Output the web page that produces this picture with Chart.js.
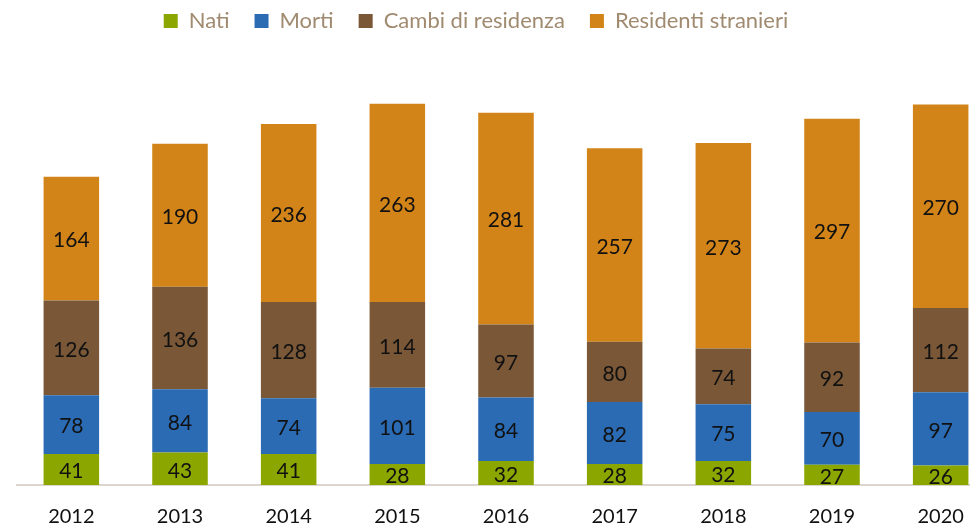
<!DOCTYPE html>
<html>
<head>
<meta charset="utf-8">
<script src="https://cdn.jsdelivr.net/npm/chart.js@4/dist/chart.umd.min.js"></script>
<style>
  html, body { margin: 0; padding: 0; background: #fff; overflow: hidden; }
  #wrap { width: 970px; height: 526px; overflow: hidden; position: relative; }
  canvas { position: absolute; left: 0; top: 0; }
</style>
</head>
<body>
<div id="wrap"><canvas id="chart" width="1012" height="560"></canvas></div>
<script>
const years = ['2012', '2013', '2014', '2015', '2016', '2017', '2018', '2019', '2020'];
const nati = [41, 43, 41, 28, 32, 28, 32, 27, 26];
const morti = [78, 84, 74, 101, 84, 82, 75, 70, 97];
const cambi = [126, 136, 128, 114, 97, 80, 74, 92, 112];
const stranieri = [164, 190, 236, 263, 281, 257, 273, 297, 270];

const FONT = 'Lato, "Open Sans", sans-serif';

// writes each value in the middle of its segment
const segmentLabels = {
  id: 'segmentLabels',
  afterDatasetsDraw(chart) {
    const ctx = chart.ctx;
    ctx.save();
    ctx.font = '21px ' + FONT;
    ctx.fillStyle = '#111';
    ctx.textAlign = 'center';
    ctx.textBaseline = 'middle';
    chart.data.datasets.forEach((ds, i) => {
      chart.getDatasetMeta(i).data.forEach((bar, j) => {
        ctx.fillText(ds.data[j], bar.x, (bar.y + bar.base) / 2 + 2);
      });
    });
    ctx.restore();
  }
};

// the legend sits a little left and higher than Chart.js would put it
const legendShift = {
  id: 'legendShift',
  afterLayout(chart) {
    const lg = chart.legend;
    lg.left -= 30; lg.right -= 30;
    lg.top -= 15; lg.bottom -= 15;
  }
};

new Chart(document.getElementById('chart'), {
  type: 'bar',
  data: {
    labels: years,
    datasets: [
      { label: 'Nati', data: nati, backgroundColor: '#8ca600' },
      { label: 'Morti', data: morti, backgroundColor: '#2a6bb4' },
      { label: 'Cambi di residenza', data: cambi, backgroundColor: '#7a5737' },
      { label: 'Residenti stranieri', data: stranieri, backgroundColor: '#d38418' }
    ]
  },
  options: {
    responsive: false,
    animation: false,
    categoryPercentage: 1,
    barPercentage: 0.511,
    layout: { padding: { left: 17, right: 17, top: 0, bottom: 11 } },
    plugins: {
      legend: {
        labels: {
          boxWidth: 14, boxHeight: 14, padding: 25,
          color: '#a08a70',
          font: { family: FONT, size: 22 }
        }
      },
      tooltip: { enabled: false }
    },
    scales: {
      x: {
        stacked: true,
        grid: { display: false, drawTicks: false },
        border: { display: true, color: '#dcd5cf', width: 2 },
        ticks: { color: '#111', padding: 20, font: { family: FONT, size: 20 } }
      },
      y: {
        stacked: true,
        display: false,
        min: 0,
        max: 568
      }
    }
  },
  plugins: [segmentLabels, legendShift]
});
</script>
</body>
</html>
